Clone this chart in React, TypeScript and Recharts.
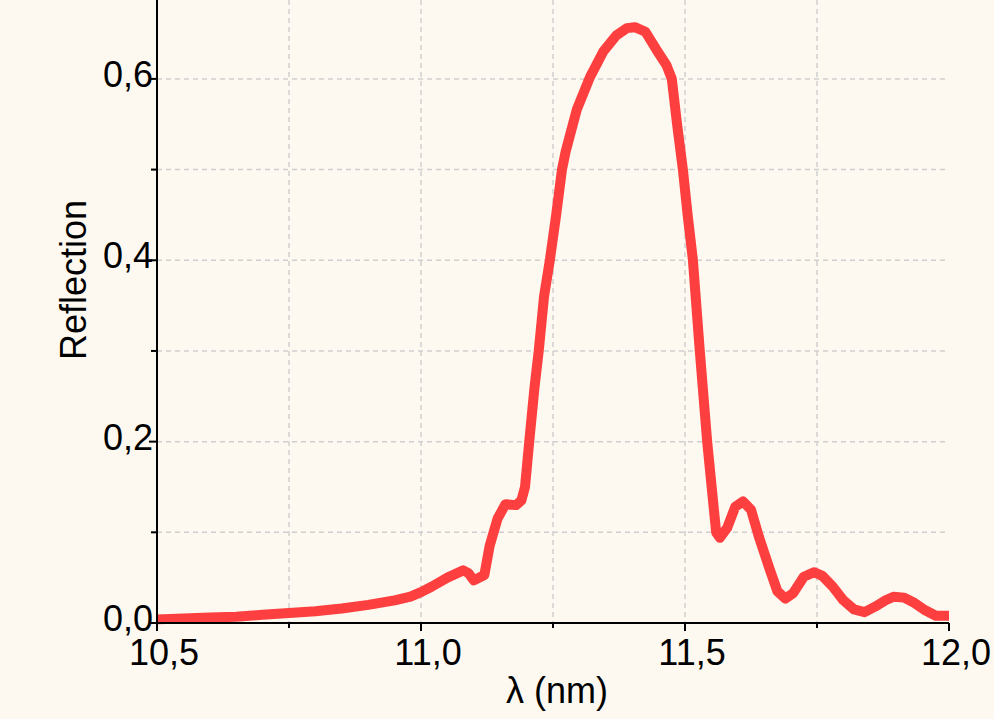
import { LineChart, Line, XAxis, YAxis, CartesianGrid } from 'recharts';

// wavelength in nm and reflection
const wavelength = [
  10.5, 10.55, 10.6, 10.65, 10.7, 10.75, 10.8, 10.85, 10.9, 10.95, 10.98, 11.0, 11.02, 11.05,
  11.08, 11.09, 11.1, 11.12, 11.13, 11.145, 11.16, 11.18, 11.19, 11.197, 11.205, 11.215,
  11.223, 11.233, 11.244, 11.256, 11.267, 11.274, 11.295, 11.32, 11.345, 11.37, 11.39,
  11.405, 11.425, 11.445, 11.465, 11.475, 11.485, 11.496, 11.505, 11.515, 11.528, 11.542,
  11.559, 11.566, 11.58, 11.595, 11.61, 11.625, 11.64, 11.66, 11.675, 11.69, 11.705, 11.725,
  11.745, 11.76, 11.78, 11.8, 11.82, 11.84, 11.86, 11.88, 11.895, 11.915, 11.935, 11.955,
  11.975, 12.0,
];
const reflection = [
  0.004, 0.005, 0.006, 0.007, 0.009, 0.011, 0.013, 0.016, 0.02, 0.025, 0.029, 0.034, 0.04, 0.05,
  0.058, 0.055, 0.047, 0.053, 0.085, 0.115, 0.131, 0.13, 0.135, 0.15, 0.2, 0.26,
  0.3, 0.36, 0.4, 0.45, 0.5, 0.52, 0.566, 0.602, 0.63, 0.648, 0.656,
  0.657, 0.652, 0.633, 0.615, 0.6, 0.55, 0.5, 0.45, 0.4, 0.3, 0.2,
  0.1, 0.094, 0.105, 0.128, 0.134, 0.125, 0.095, 0.06, 0.035, 0.027, 0.033, 0.051,
  0.056, 0.052, 0.04, 0.025, 0.015, 0.012, 0.018, 0.025, 0.029, 0.028, 0.022, 0.014,
  0.008, 0.008,
];

const xTicks = [10.5, 10.75, 11.0, 11.25, 11.5, 11.75, 12.0];
const xLabels = [10.5, 11.0, 11.5, 12.0];
const yTicks = [0, 0.1, 0.2, 0.3, 0.4, 0.5, 0.6];
const yLabels = [0, 0.2, 0.4, 0.6];

const data = wavelength.map((w, i) => ({ w, r: reflection[i] }));

const fmt = (v: number) => v.toFixed(1).replace('.', ',');
const isLabel = (list: number[], v: number) => list.some((l) => Math.abs(l - v) < 1e-6);

const XTick = (props: any) => {
  const { x, y, payload } = props;
  const major = isLabel(xLabels, payload.value);
  return (
    <g>
      <line x1={x} x2={x} y1={y} y2={y + (major ? 8 : 5)} stroke="#000" strokeWidth={2} />
      {major && (
        <text x={x + 7} y={y + 42} textAnchor="middle" fontSize={36} fill="#000">
          {fmt(payload.value)}
        </text>
      )}
    </g>
  );
};

const YTick = (props: any) => {
  const { x, y, payload } = props;
  const major = isLabel(yLabels, payload.value);
  return (
    <g>
      <line x1={x - (major ? 8 : 6)} x2={x} y1={y} y2={y} stroke="#000" strokeWidth={2} />
      {major && (
        <text x={x - 4} y={y + 8} textAnchor="end" fontSize={36} fill="#000">
          {fmt(payload.value)}
        </text>
      )}
    </g>
  );
};

export default function App() {
  return (
    <div
      style={{
        position: 'fixed',
        left: 0,
        top: 0,
        width: 994,
        height: 719,
        background: '#fdf9f0',
        fontFamily: '"Liberation Sans", Arial, sans-serif',
      }}
    >
      <LineChart width={994} height={719} data={data} margin={{ top: 0, right: 45, bottom: 0, left: 0 }}>
        <CartesianGrid
          stroke="#cfcfcf"
          strokeDasharray="5 4"
          strokeWidth={1.5}
          verticalValues={[10.75, 11.0, 11.25, 11.5, 11.75]}
          horizontalValues={[0.1, 0.2, 0.3, 0.4, 0.5, 0.6]}
        />
        <XAxis
          dataKey="w"
          type="number"
          domain={[10.5, 12]}
          ticks={xTicks}
          interval={0}
          height={96}
          tickSize={0}
          tickMargin={0}
          tickLine={false}
          tick={<XTick />}
          axisLine={{ stroke: '#000', strokeWidth: 2 }}
        />
        <YAxis
          type="number"
          domain={[0, 0.687]}
          ticks={yTicks}
          interval={0}
          width={157}
          tickSize={0}
          tickMargin={0}
          tickLine={false}
          tick={<YTick />}
          axisLine={{ stroke: '#000', strokeWidth: 2 }}
        />
        <Line
          type="linear"
          dataKey="r"
          stroke="#fd3f3f"
          strokeWidth={10}
          dot={false}
          strokeLinejoin="round"
          isAnimationActive={false}
        />
        <text x={86} y={280} transform="rotate(-90, 86, 280)" textAnchor="middle" fontSize={36} fill="#000">
          Reflection
        </text>
        <text x={557} y={703} textAnchor="middle" fontSize={36} fill="#000">
          λ (nm)
        </text>
      </LineChart>
    </div>
  );
}
